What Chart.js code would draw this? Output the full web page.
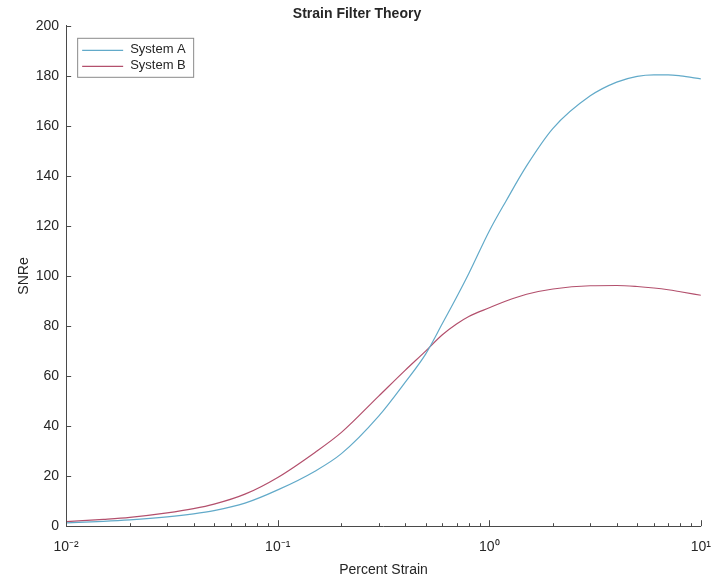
<!DOCTYPE html>
<html>
<head>
<meta charset="utf-8">
<script src="https://cdn.jsdelivr.net/npm/chart.js@4/dist/chart.umd.min.js"></script>
<style>
  html, body { margin: 0; padding: 0; background: #fff; }
  #wrap { width: 714px; height: 585px; position: relative; }
</style>
</head>
<body>
<div id="wrap"><canvas id="c" width="714" height="585"></canvas></div>
<script>
// ---- data ----
const percentStrain = [0.01, 0.015, 0.02, 0.03, 0.04, 0.05, 0.07, 0.1, 0.15, 0.2, 0.3, 0.4, 0.5, 0.6, 0.7, 0.8, 1.0, 1.2, 1.5, 2, 3, 4, 5, 6, 7, 8, 10];
const systemA = [1.3, 1.9, 2.5, 3.7, 4.9, 6.2, 9.2, 14.5, 22, 29, 44, 57.5, 68.8, 81, 91.5, 101, 118, 130, 144, 159, 172, 177.5, 179.8, 180.4, 180.4, 180, 178.8];
const systemB = [1.8, 2.7, 3.5, 5.3, 7.0, 8.8, 12.8, 19.5, 29.5, 37.5, 52, 62.3, 70, 76.5, 80.8, 83.8, 87.3, 90, 92.7, 94.8, 96.1, 96.2, 95.8, 95.2, 94.5, 93.7, 92.3];
const seriesNames = ['System A', 'System B'];
const xMajorTicks = [0.01, 0.1, 1, 10];
const xTickLabels = ['10\u207B\u00B2', '10\u207B\u00B9', '10\u2070', '10\u00B9'];
const yTicks = [0, 20, 40, 60, 80, 100, 120, 140, 160, 180, 200];
const chartTitle = 'Strain Filter Theory';
const xTitle = 'Percent Strain';
const yTitle = 'SNRe';

const FONT = "'Liberation Sans', Arial, Helvetica, sans-serif";
const AXIS = '#4a4a4a';
const TEXT = '#262626';
const colors = ['#62aac9', '#b3506d'];

function toPoints(xs, ys) { return xs.map((x, i) => ({ x: x, y: ys[i] })); }

// all decade sub-ticks 1..9 x 10^k
const allXTicks = [];
for (let e = -2; e <= 1; e++) {
  for (let m = 1; m <= 9; m++) {
    const v = m * Math.pow(10, e);
    if (v <= 10 + 1e-9) allXTicks.push(+v.toPrecision(3));
  }
}

const inwardTicks = {
  id: 'inwardTicks',
  afterDraw(chart) {
    const ctx = chart.ctx, xs = chart.scales.x, ys = chart.scales.y, a = chart.chartArea;
    ctx.save();
    ctx.strokeStyle = AXIS;
    ctx.lineWidth = 1;
    ctx.beginPath();
    allXTicks.forEach(v => {
      const px = Math.round(xs.getPixelForValue(v)) + 0.5;
      const major = xMajorTicks.some(m => Math.abs(m - v) < 1e-9);
      const len = major ? 6 : 3;
      ctx.moveTo(px, a.bottom);
      ctx.lineTo(px, a.bottom - len);
    });
    yTicks.forEach(v => {
      const py = Math.round(ys.getPixelForValue(v)) + 0.5;
      ctx.moveTo(a.left, py);
      ctx.lineTo(a.left + 5, py);
    });
    ctx.stroke();

    // legend box
    const lx = a.left + 11, ly = a.top + 12, lw = 116, lh = 39;
    ctx.fillStyle = '#fff';
    ctx.fillRect(lx, ly, lw, lh);
    ctx.strokeStyle = '#8a8a8a';
    ctx.strokeRect(lx + 0.5, ly + 0.5, lw, lh);
    ctx.font = '13px ' + FONT;
    ctx.textBaseline = 'middle';
    ctx.textAlign = 'left';
    chart.data.datasets.forEach((ds, i) => {
      const cy = ly + 12 + i * 16;
      ctx.strokeStyle = ds.borderColor;
      ctx.lineWidth = 1.2;
      ctx.beginPath();
      ctx.moveTo(lx + 5, cy + 0.5);
      ctx.lineTo(lx + 46, cy + 0.5);
      ctx.stroke();
      ctx.fillStyle = TEXT;
      ctx.fillText(ds.label, lx + 53, cy);
    });
    ctx.restore();
  }
};

new Chart(document.getElementById('c'), {
  type: 'line',
  data: {
    datasets: [
      { label: seriesNames[0], data: toPoints(percentStrain, systemA), borderColor: colors[0], borderWidth: 1.2, pointRadius: 0, cubicInterpolationMode: 'monotone', fill: false },
      { label: seriesNames[1], data: toPoints(percentStrain, systemB), borderColor: colors[1], borderWidth: 1.2, pointRadius: 0, cubicInterpolationMode: 'monotone', fill: false }
    ]
  },
  options: {
    responsive: false,
    animation: false,
    layout: { padding: { top: 2, right: 0, bottom: 6, left: 0 } },
    plugins: {
      legend: { display: false },
      tooltip: { enabled: false },
      title: {
        display: true, text: chartTitle, color: TEXT,
        font: { family: FONT, size: 14, weight: 'bold' },
        padding: { top: 4, bottom: 3 }
      }
    },
    scales: {
      x: {
        type: 'logarithmic', min: 0.01, max: 10,
        afterBuildTicks(scale) { scale.ticks = xMajorTicks.map(v => ({ value: v })); },
        ticks: {
          autoSkip: false, maxRotation: 0, color: TEXT, padding: 3,
          font: { family: FONT, size: 14, lineHeight: '36px' },
          callback(value) { const i = xMajorTicks.indexOf(value); return i >= 0 ? xTickLabels[i] : ''; }
        },
        grid: { display: true, drawOnChartArea: false, drawTicks: false },
        border: { display: true, color: AXIS, width: 1 },
        title: { display: true, text: xTitle, color: TEXT, font: { family: FONT, size: 14 }, padding: { top: -6, bottom: 0 } }
      },
      y: {
        type: 'linear', min: 0, max: 200,
        afterBuildTicks(scale) { scale.ticks = yTicks.map(v => ({ value: v })); },
        ticks: { color: TEXT, padding: 7, font: { family: FONT, size: 14 } },
        grid: { display: true, drawOnChartArea: false, drawTicks: false },
        border: { display: true, color: AXIS, width: 1 },
        title: { display: true, text: yTitle, color: TEXT, font: { family: FONT, size: 14 }, padding: { top: 16, bottom: -4 } }
      }
    }
  },
  plugins: [inwardTicks]
});
</script>
</body>
</html>
